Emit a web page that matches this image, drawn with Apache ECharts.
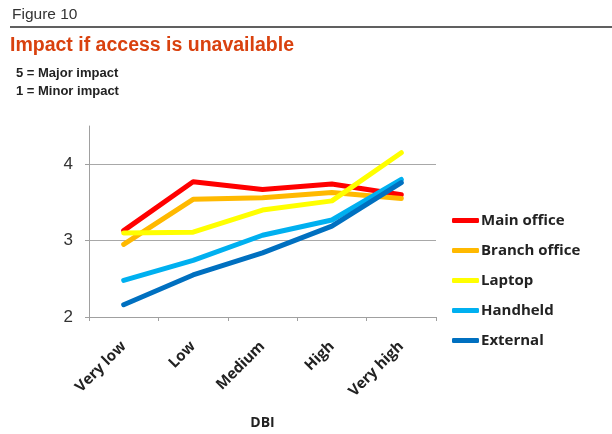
<!DOCTYPE html>
<html>
<head>
<meta charset="utf-8">
<script src="https://cdn.jsdelivr.net/npm/echarts@6/dist/echarts.min.js"></script>
<style>
  html, body { margin: 0; padding: 0; background: #fff; }
  #chart { width: 612px; height: 434px; }
</style>
</head>
<body>
<div id="chart"></div>
<script>
// DBI categories along the x axis
const categories = ['Very low', 'Low', 'Medium', 'High', 'Very high'];

// Average impact score per access location (1 = minor, 5 = major)
const mainOffice   = [3.13, 3.77, 3.67, 3.74, 3.60];
const branchOffice = [2.95, 3.54, 3.56, 3.63, 3.55];
const laptop       = [3.10, 3.11, 3.40, 3.52, 4.15];
const handheld     = [2.48, 2.74, 3.07, 3.27, 3.80];
const external     = [2.16, 2.55, 2.84, 3.19, 3.76];

const yTicks = [2, 3, 4];

const seriesDefs = [
  { name: 'Main office',   data: mainOffice,   color: '#FF0000' },
  { name: 'Branch office', data: branchOffice, color: '#FFB900' },
  { name: 'Laptop',        data: laptop,       color: '#FFFF00' },
  { name: 'Handheld',      data: handheld,     color: '#00B0F0' },
  { name: 'External',      data: external,     color: '#0070C0' }
];

const boldFont = 'Open Sans, sans-serif';

const chart = echarts.init(document.getElementById('chart'), null, { renderer: 'canvas' });

chart.setOption({
  animation: false,
  backgroundColor: '#ffffff',
  textStyle: { fontFamily: 'Liberation Sans, Arial, sans-serif' },
  title: [
    { text: 'Figure 10', left: 12, top: 7, padding: 0,
      textStyle: { fontSize: 15.5, fontWeight: 'normal', color: '#333333' } },
    { text: 'Impact if access is unavailable', left: 10, top: 36, padding: 0,
      textStyle: { fontSize: 19.5, fontWeight: 'bold', color: '#D9410E' } },
    { text: '5 = Major impact', left: 16, top: 67, padding: 0,
      textStyle: { fontSize: 13, fontWeight: 'bold', color: '#222222' } },
    { text: '1 = Minor impact', left: 16, top: 85, padding: 0,
      textStyle: { fontSize: 13, fontWeight: 'bold', color: '#222222' } }
  ],
  graphic: [
    { type: 'line', shape: { x1: 10, y1: 27, x2: 612, y2: 27 },
      style: { stroke: '#2b2b2b', lineWidth: 1.5 } }
  ],
  legend: {
    orient: 'vertical',
    left: 447,
    top: 208,
    itemWidth: 27,
    itemHeight: 5,
    itemGap: 15,
    icon: 'roundRect',
    textStyle: { fontSize: 15, fontWeight: 'bold', color: '#222222', padding: [0, 0, 0, -3],
      fontFamily: boldFont },
    data: seriesDefs.map(s => s.name)
  },
  grid: { left: 89, right: 176, top: 126, bottom: 117, containLabel: false },
  xAxis: {
    type: 'category',
    data: categories,
    boundaryGap: true,
    axisLine: { lineStyle: { color: '#A0A0A0', width: 1 } },
    axisTick: { show: true, length: 4, alignWithLabel: false, lineStyle: { color: '#A0A0A0' } },
    axisLabel: { rotate: 45, fontSize: 15, fontWeight: 'bold', color: '#222222', margin: 27,
      fontFamily: boldFont },
    name: 'DBI',
    nameLocation: 'middle',
    nameGap: 99,
    nameTextStyle: { fontSize: 14, fontWeight: 'bold', color: '#222222', fontFamily: boldFont }
  },
  yAxis: {
    type: 'value',
    min: 2,
    max: 4.5,
    interval: 1,
    axisLine: { show: true, lineStyle: { color: '#A0A0A0', width: 1 } },
    axisTick: { show: true, length: 4, customValues: yTicks, lineStyle: { color: '#A0A0A0' } },
    axisLabel: { fontSize: 17, color: '#333333', margin: 16, customValues: yTicks },
    splitLine: { show: true, lineStyle: { color: '#A8A8A8', width: 1 } }
  },
  series: seriesDefs.map(s => ({
    name: s.name,
    type: 'line',
    data: s.data,
    symbol: 'none',
    color: s.color,
    lineStyle: { width: 5, color: s.color, cap: 'round', join: 'round' }
  }))
});
</script>
</body>
</html>
